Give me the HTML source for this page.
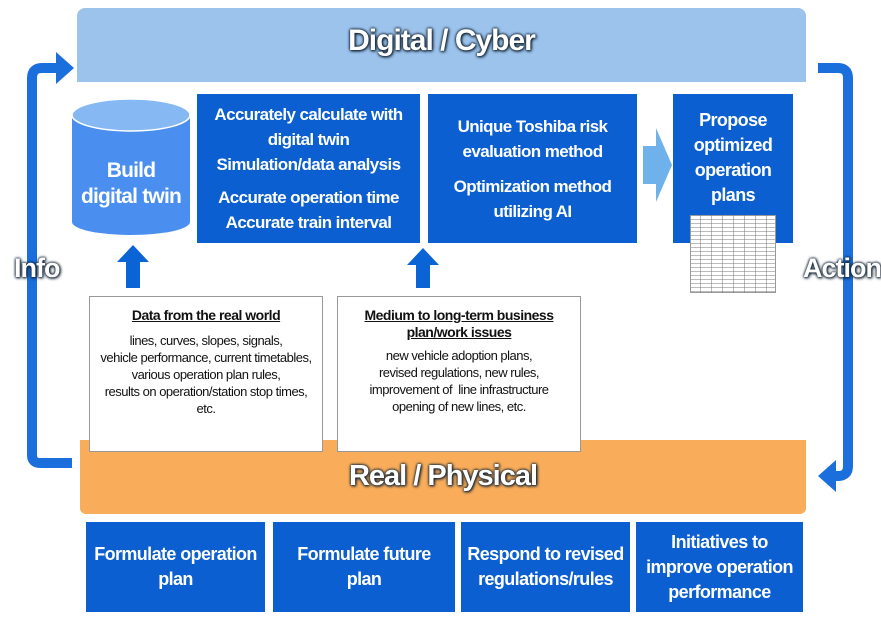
<!DOCTYPE html>
<html><head><meta charset="utf-8"><style>
body{margin:0;width:881px;height:619px;background:#fff;position:relative;overflow:hidden;font-family:"Liberation Sans",sans-serif;}
.a{position:absolute;box-sizing:border-box;}
.bx{background:#0b5fd0;color:#fff;font-weight:bold;text-align:center;display:flex;flex-direction:column;justify-content:center;align-items:center;letter-spacing:-0.6px;}
.t{color:#fff;font-weight:bold;text-shadow:0 0 2px #123,0 0 3px #123,1px 1px 3px #123;letter-spacing:-1px;}
.d{background:#fff;border:1px solid #999;text-align:center;font-size:13px;line-height:17px;color:#111;letter-spacing:-0.5px;}
.d b{text-decoration:underline;font-size:14px;display:block;margin:10px 0 8px;}
</style></head><body>
<svg class="a" style="left:0;top:0" width="881" height="619">
<path d="M72 463 H40 Q32 463 32 455 V78 Q32 68 42 68 H58" fill="none" stroke="#1a6fdc" stroke-width="10"/>
<polygon points="56,52 74,68 56,84" fill="#1a6fdc"/>
<path d="M818 68 H838 Q848 68 848 78 V466 Q848 476 838 476 H834" fill="none" stroke="#1a6fdc" stroke-width="10"/>
<polygon points="836,460 818,476 836,492" fill="#1a6fdc"/>
<polygon points="643,146 656,146 656,128 672,165 656,202 656,184 643,184" fill="#6fb1ea"/>
<polygon points="133,245 149,262 140,262 140,288 126,288 126,262 117,262" fill="#0b64d6"/>
<polygon points="423,248 439,265 430,265 430,288 416,288 416,265 407,265" fill="#0b64d6"/>
<path d="M72 115 V222 A59 13 0 0 0 190 222 V115" fill="#4a8ff0"/>
<ellipse cx="131" cy="115" rx="59" ry="16" fill="#86b8f4" stroke="#fff" stroke-width="1.5"/>
</svg>
<div class="a" style="left:77px;top:8px;width:729px;height:74px;background:#9cc3ec;border-radius:8px 8px 0 0"></div>
<div class="a t" style="left:77px;top:24px;width:729px;text-align:center;font-size:30px">Digital / Cyber</div>
<div class="a" style="left:72px;top:158px;width:118px;text-align:center;color:#fff;font-weight:bold;font-size:21px;line-height:26px;letter-spacing:-0.8px">Build<br>digital twin</div>
<div class="a bx" style="left:197px;top:94px;width:223px;height:149px;font-size:17px;line-height:25px">Accurately calculate with<br>digital twin<br>Simulation/data analysis<div style="height:8px"></div>Accurate operation time<br>Accurate train interval</div>
<div class="a bx" style="left:428px;top:94px;width:209px;height:149px;font-size:17px;line-height:25px">Unique Toshiba risk<br>evaluation method<div style="height:10px"></div>Optimization method<br>utilizing AI</div>
<div class="a bx" style="left:673px;top:94px;width:120px;height:149px;font-size:18px;line-height:25px;justify-content:flex-start;padding-top:14px">Propose<br>optimized<br>operation<br>plans</div>
<div class="a" style="left:690px;top:215px;width:86px;height:78px;background:repeating-linear-gradient(#fff 0 3px,#bbb 3px 4px);border:1px solid #999"></div>
<div class="a" style="left:690px;top:215px;width:86px;height:78px;background:repeating-linear-gradient(90deg,transparent 0 10px,rgba(120,120,120,.5) 10px 11px)"></div>
<div class="a t" style="left:14px;top:253px;font-size:27px">Info</div>
<div class="a t" style="left:803px;top:253px;font-size:27px">Action</div>
<div class="a" style="left:80px;top:440px;width:726px;height:74px;background:#f9ad5a;border-radius:0 0 6px 6px"></div>
<div class="a t" style="left:80px;top:460px;width:726px;text-align:center;font-size:29px">Real / Physical</div>
<div class="a d" style="left:89px;top:296px;width:234px;height:156px"><b>Data from the real world</b>lines, curves, slopes, signals,<br>vehicle performance, current timetables,<br>various operation plan rules,<br>results on operation/station stop times,<br>etc.</div>
<div class="a d" style="left:337px;top:296px;width:244px;height:156px"><b style="margin-bottom:6px">Medium to long-term business<br>plan/work issues</b>new vehicle adoption plans,<br>revised regulations, new rules,<br>improvement of &nbsp;line infrastructure<br>opening of new lines, etc.</div>
<div class="a bx" style="left:86px;top:522px;width:179px;height:90px;font-size:18px;line-height:25px">Formulate operation<br>plan</div>
<div class="a bx" style="left:273px;top:522px;width:182px;height:90px;font-size:18px;line-height:25px">Formulate future<br>plan</div>
<div class="a bx" style="left:461px;top:522px;width:169px;height:90px;font-size:18px;line-height:25px">Respond to revised<br>regulations/rules</div>
<div class="a bx" style="left:636px;top:522px;width:167px;height:90px;font-size:18px;line-height:25px">Initiatives to<br>improve operation<br>performance</div>
</body></html>
